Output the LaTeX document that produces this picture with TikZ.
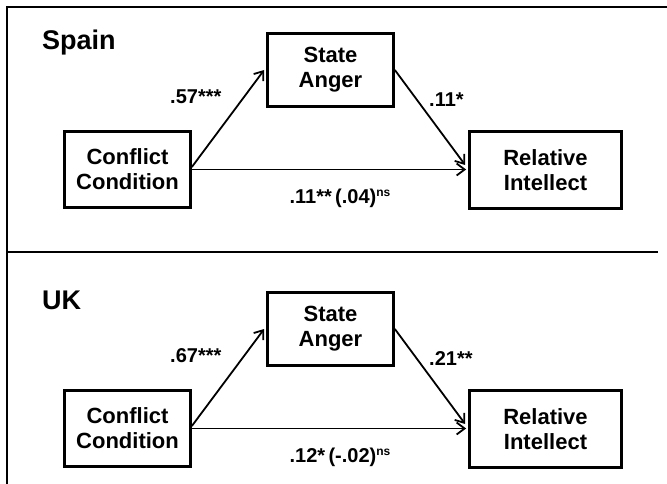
\documentclass[tikz,border=0pt]{standalone}
\usepackage{fontspec}
\setmainfont{Liberation Sans}
\usetikzlibrary{arrows.meta}
\begin{document}
\begin{tikzpicture}[x=1pt,y=-1pt,
  box/.style={draw, line width=2.7pt, inner sep=0pt, align=center,
    font=\bfseries\fontsize{22}{25}\selectfont},
  conn/.style={line width=1.8pt, -{Straight Barb[length=8pt,width=12pt,line width=1.8pt]}},
  lab/.style={inner sep=0pt, font=\bfseries\fontsize{20}{20}\selectfont},
  ttl/.style={inner sep=0pt, anchor=base west, font=\bfseries\fontsize{27}{27}\selectfont},
  rule/.style={line width=2.8pt}]
\useasboundingbox (0,0) rectangle (667,484);
% frame
\coordinate (ftl) at (7,7);
\coordinate (ftr) at (667,7);
\coordinate (fbl) at (7,484);
\draw[rule, line cap=rect] (ftr) -- (ftl) -- (fbl);
% divider
\coordinate (dl) at (7,252);
\coordinate (dr) at (658,252);
\draw[line width=2.4pt] (dl) -- (dr);

% ---- Spain ----
\node[ttl] (t1) at (42,50) {Spain};
\node[box, minimum width=126pt, minimum height=73pt] (sa1) at (330.5,70) {State\\Anger};
\node[box, minimum width=126pt, minimum height=76pt] (cc1) at (127.5,169.5) {Conflict\\Condition};
\node[box, minimum width=152pt, minimum height=77pt] (ri1) at (545.5,170) {Relative\\Intellect};
\draw[conn] ([yshift=2.5pt]cc1.east) -- ([xshift=-2pt]sa1.west);
\draw[conn] (sa1.east) -- ([xshift=-3pt,yshift=5pt]ri1.west);
\draw[conn] (cc1.east) -- ([xshift=-2pt]cc1.east -| ri1.west);
\node[lab, anchor=west] (l11) at (170,97) {.57***};
\node[lab, anchor=west] (l12) at (429,100) {.11*};
\node[lab] (l13) at (340,198) {.11**\,(.04)\raisebox{7pt}{\fontsize{12}{12}\selectfont ns}};

% ---- UK ----
\node[ttl] (t2) at (42,309) {UK};
\node[box, minimum width=126pt, minimum height=73pt] (sa2) at (330.5,329) {State\\Anger};
\node[box, minimum width=126pt, minimum height=76pt] (cc2) at (127.5,428.5) {Conflict\\Condition};
\node[box, minimum width=152pt, minimum height=77pt] (ri2) at (545.5,429) {Relative\\Intellect};
\draw[conn] ([yshift=2.5pt]cc2.east) -- ([xshift=-2pt]sa2.west);
\draw[conn] (sa2.east) -- ([xshift=-3pt,yshift=5pt]ri2.west);
\draw[conn] (cc2.east) -- ([xshift=-2pt]cc2.east -| ri2.west);
\node[lab, anchor=west] (l21) at (170,356) {.67***};
\node[lab, anchor=west] (l22) at (429,359) {.21**};
\node[lab] (l23) at (340,457) {.12*\,(-.02)\raisebox{7pt}{\fontsize{12}{12}\selectfont ns}};
\end{tikzpicture}
\end{document}
